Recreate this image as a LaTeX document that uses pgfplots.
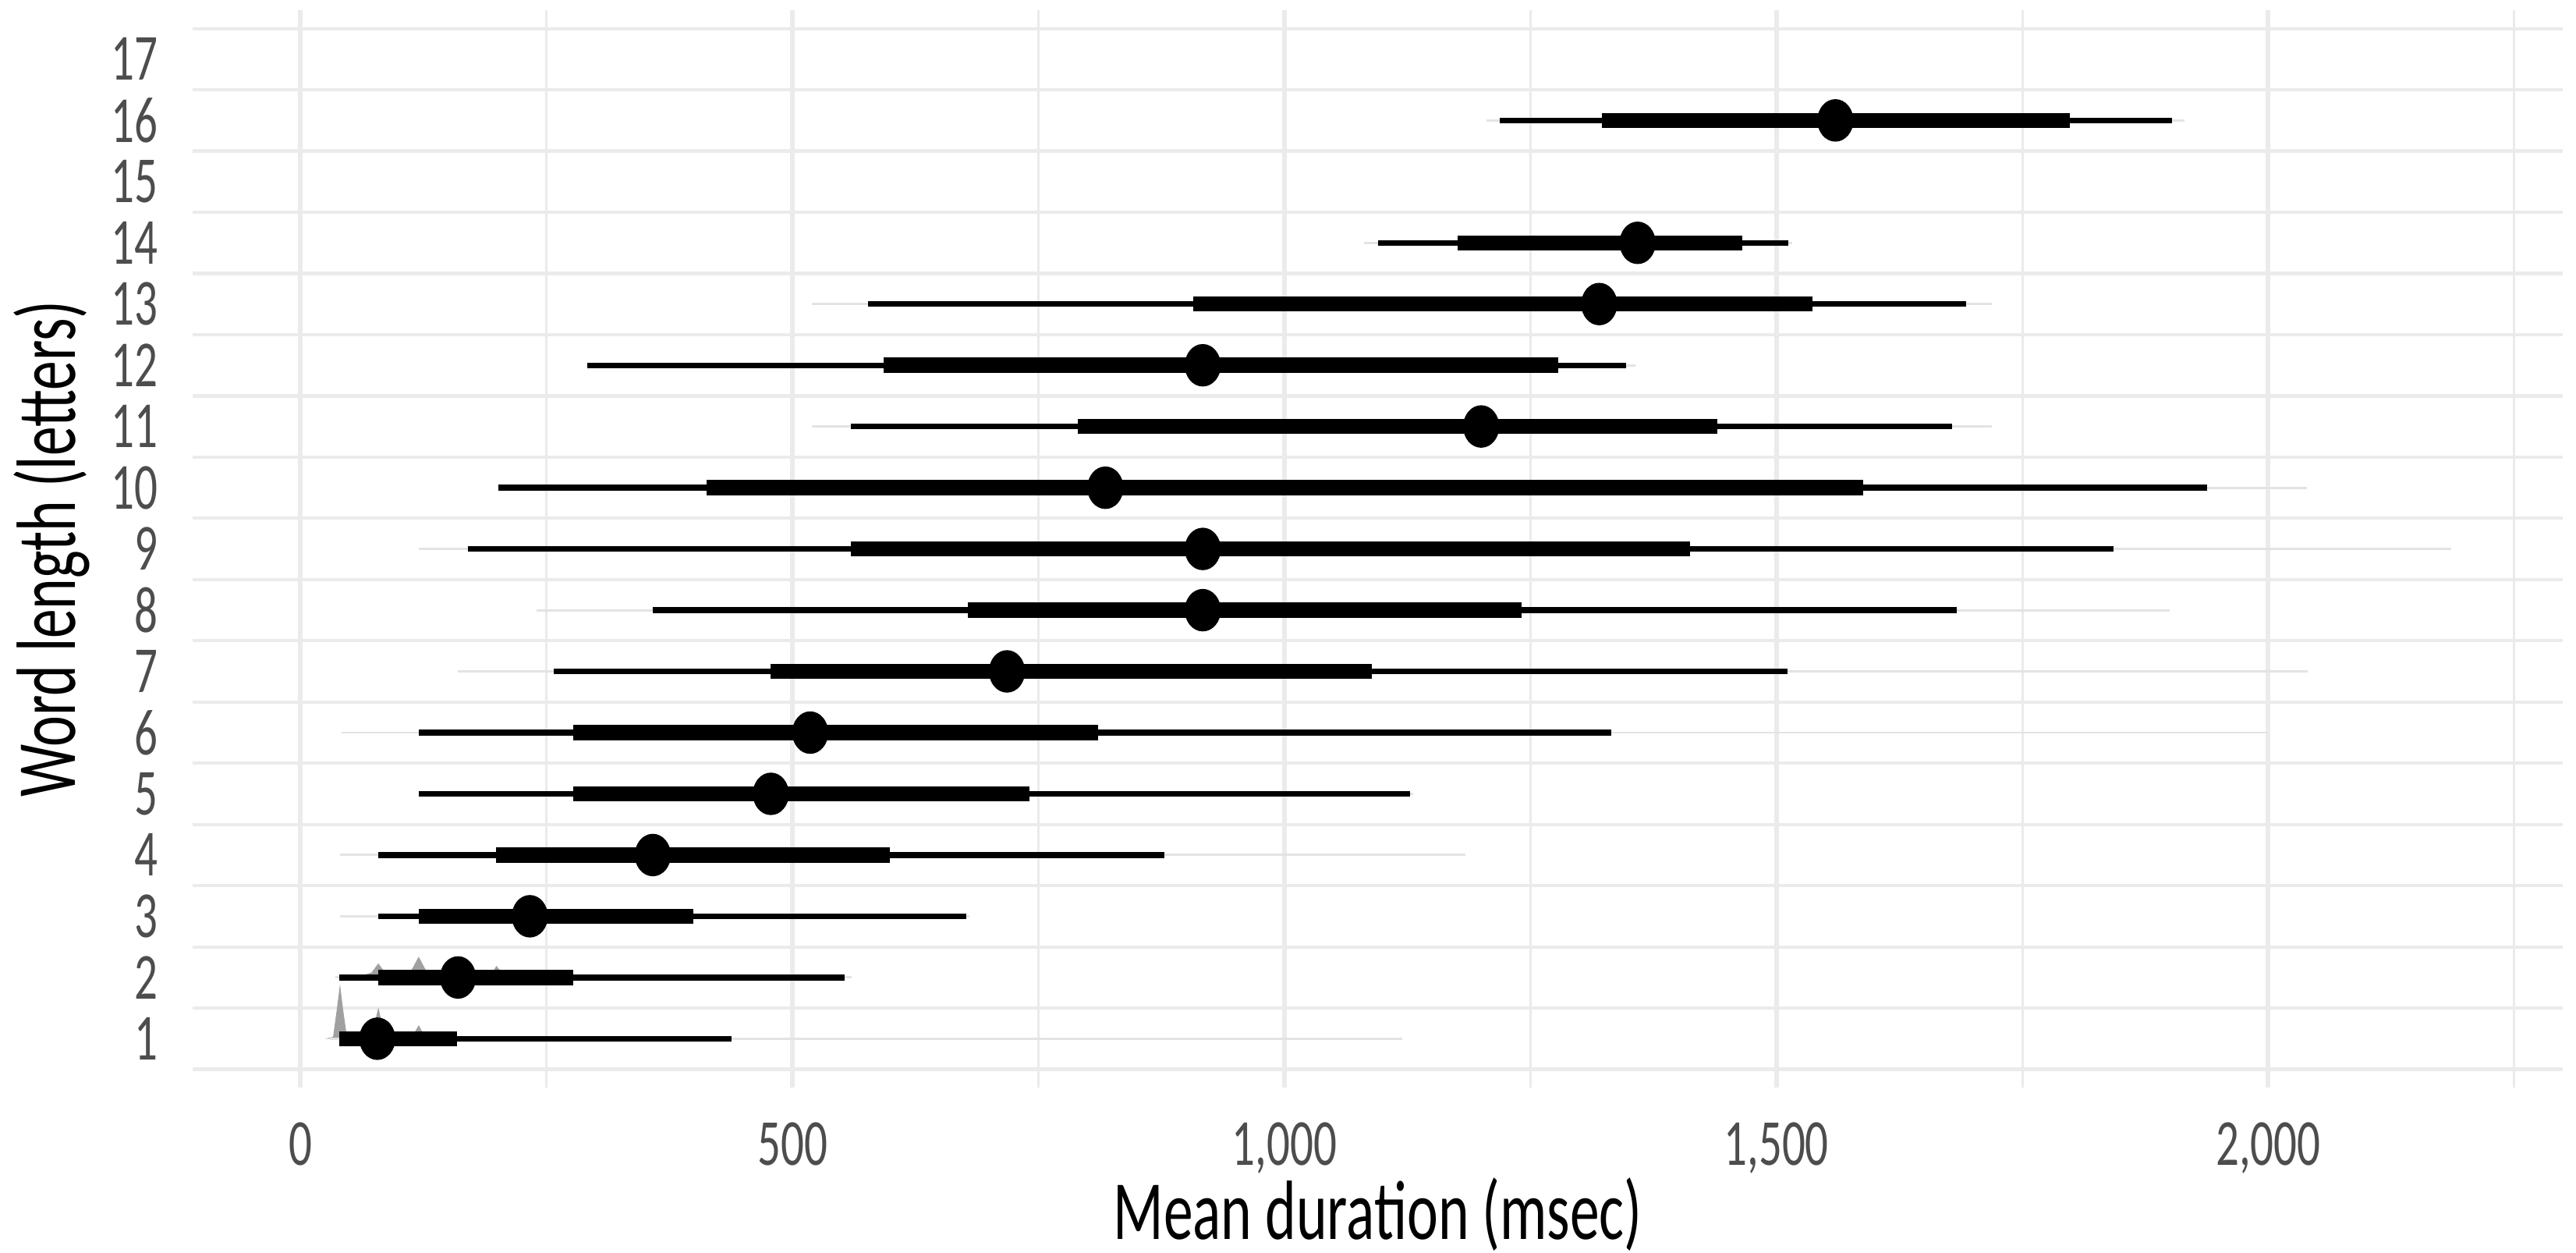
\documentclass[border=0pt]{standalone}
\usepackage{fontspec}
\setmainfont{Carlito}[FakeStretch=0.7]
\usepackage{pgfplots}
\usepackage{pgfplotstable}
\pgfplotsset{compat=1.18}

\definecolor{gridc}{HTML}{EBEBEB}
\definecolor{tickc}{HTML}{4D4D4D}
\definecolor{faintc}{HTML}{E3E3E3}
\definecolor{densc}{HTML}{A0A0A0}

% word length, slab range, 95% and 66% intervals, median
\pgfplotstableread{
y  flo   fhi   lo95  hi95  lo66  hi66  med
1  30    1120  39    438   39    159   78
2  35    560   39    553   79    277   160
3  40    680   79    677   120   399   233
4  40    1184  79    878   199   599   358
5  120   1131  120   1128  277   741   478
6  42    2000  120   1332  277   811   518
7  160   2040  257   1511  478   1089  718
8  240   1900  358   1683  678   1241  917
9  120   2186  170   1843  559   1412  917
10 201   2039  201   1938  413   1588  818
11 520   1719  559   1679  790   1440  1200
12 291   1357  291   1347  593   1278  917
13 520   1719  577   1693  907   1537  1320
14 1081  1516  1095  1512  1176  1465  1359
16 1205  1915  1219  1902  1323  1798  1560
}\durations

\begin{document}
\begin{tikzpicture}
\begin{axis}[
    scale only axis,
    width=360.65pt, height=163.9pt,
    xmin=-109.5, xmax=2299.5,
    ymin=0.2, ymax=17.8,
    axis line style={draw=none},
    major tick length=0pt, minor tick length=0pt,
    xtick={0,500,1000,1500,2000},
    minor xtick={250,750,1250,1750,2250},
    ytick={1,...,17},
    minor ytick={0.5,1.5,...,17.5},
    xmajorgrids, xminorgrids, yminorgrids,
    major x grid style={gridc, line width=0.7pt},
    minor x grid style={gridc, line width=0.35pt},
    minor y grid style={gridc, line width=0.5pt},
    /pgf/number format/1000 sep={,},
    /pgf/number format/assume math mode=true,
    ticklabel style={font=\fontsize{10}{12}\selectfont, text=tickc},
    xticklabel style={yshift=-1.8pt},
    yticklabel style={xshift=-1.8pt},
    every axis x label/.style={at={(axis description cs:0.5,-0.141)}, anchor=base},
    every axis y label/.style={at={(axis description cs:-0.0495,0.5)}, rotate=90, anchor=base},
    label style={font=\fontsize{12.8}{15}\selectfont},
    xlabel={Mean duration (msec)},
    ylabel={Word length (letters)},
]
% density slabs (only visible for the shortest words)
\addplot[fill=densc, draw=none, forget plot] coordinates {
    (25,1) (33,1.03) (37,1.5) (40,1.89) (43,1.5) (47,1.04) (60,1.02)
    (72,1.08) (76,1.3) (79,1.51) (82,1.3) (86,1.08) (100,1.02) (114,1.05)
    (120,1.22) (126,1.05) (140,1) } --cycle;
\addplot[fill=densc, draw=none, forget plot] coordinates {
    (40,2) (60,2.02) (72,2.08) (79,2.23) (86,2.08) (100,2.05) (112,2.1)
    (120,2.34) (128,2.1) (145,2.05) (160,2.2) (180,2.05) (195,2.08)
    (199,2.19) (205,2.07) (230,2.02) (280,2) } --cycle;
% faint slab range
\addplot[only marks, mark=none, forget plot,
    error bars/.cd, x dir=both, x explicit, error mark=none,
    error bar style={line width=0.35pt, color=faintc}]
    table[x=med, y=y,
        x error plus expr=\thisrow{fhi}-\thisrow{med},
        x error minus expr=\thisrow{med}-\thisrow{flo}] {\durations};
% 95% interval
\addplot[only marks, mark=none, forget plot,
    error bars/.cd, x dir=both, x explicit, error mark=none,
    error bar style={line width=0.87pt, color=black}]
    table[x=med, y=y,
        x error plus expr=\thisrow{hi95}-\thisrow{med},
        x error minus expr=\thisrow{med}-\thisrow{lo95}] {\durations};
% 66% interval
\addplot[only marks, mark=none, forget plot,
    error bars/.cd, x dir=both, x explicit, error mark=none,
    error bar style={line width=2.3pt, color=black}]
    table[x=med, y=y,
        x error plus expr=\thisrow{hi66}-\thisrow{med},
        x error minus expr=\thisrow{med}-\thisrow{lo66}] {\durations};
% median
\addplot[only marks, mark=*, mark size=3.03pt,
    mark options={xscale=0.84, fill=black, draw=none}]
    table[x=med, y=y] {\durations};
\end{axis}
\pgfresetboundingbox
\useasboundingbox ([xshift=-29.35pt,yshift=-25.05pt]current axis.south west)
    rectangle ([xshift=2pt,yshift=1.55pt]current axis.north east);
\end{tikzpicture}
\end{document}
